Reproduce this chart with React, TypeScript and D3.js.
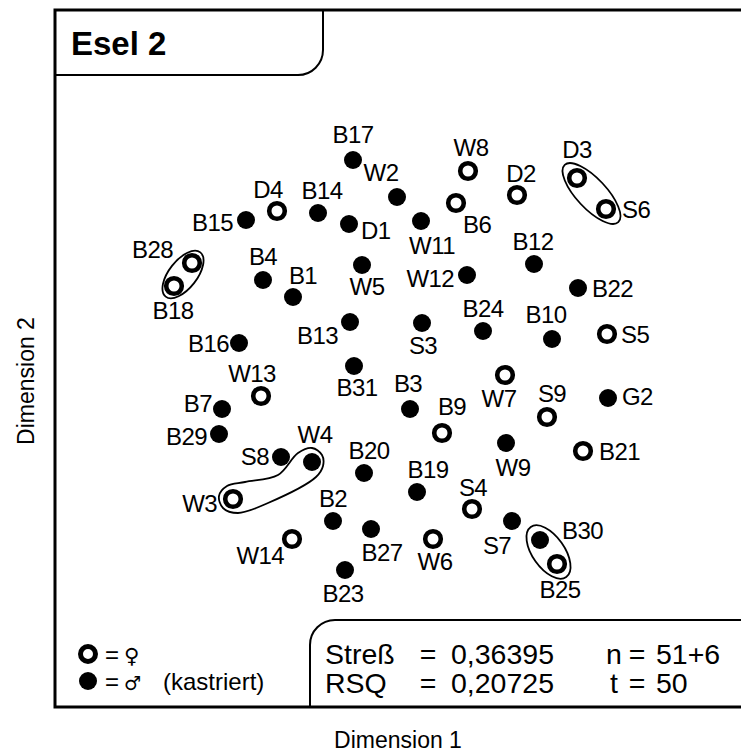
import React from "react";
import * as d3 from "d3";

// ---- Data (MDS coordinates, Dimension 1 / Dimension 2) ----
const femaleNames = ["W8","D2","D3","S6","D4","B6","B28","B18","S5","W7","W13","S9","B9","B21","W3","S4","W14","W6","B25"];
const femaleDim1 = [0.56,1.05,1.65,1.94,-1.35,0.44,-2.20,-2.38,1.95,0.93,-1.51,1.35,0.30,1.71,-1.79,0.60,-1.20,0.21,1.45];
const femaleDim2 = [2.09,1.85,2.02,1.71,1.69,1.77,1.17,0.94,0.46,0.05,-0.16,-0.37,-0.53,-0.71,-1.19,-1.29,-1.59,-1.59,-1.84];

const maleNames = ["B17","W2","B14","B15","D1","W11","B12","W12","B4","W5","B1","B22","B24","B10","B13","S3","B16","B31","B3","G2","B7","B29","W9","S8","W4","B20","B19","B2","S7","B27","B30","B23"];
const maleDim1 = [-0.59,-0.15,-0.94,-1.66,-0.63,0.09,1.22,0.55,-1.49,-0.50,-1.19,1.66,0.71,1.40,-0.62,0.10,-1.73,-0.58,-0.02,1.96,-1.90,-1.93,0.94,-1.31,-1.00,-0.48,0.05,-0.79,1.00,-0.41,1.28,-0.67];
const maleDim2 = [2.20,1.83,1.67,1.60,1.56,1.59,1.16,1.05,1.00,1.15,0.83,0.92,0.49,0.41,0.58,0.57,0.37,0.14,-0.29,-0.18,-0.29,-0.54,-0.63,-0.77,-0.82,-0.93,-1.12,-1.41,-1.41,-1.49,-1.60,-1.90];

const ellipsePairs = [["B28","B18"],["D3","S6"],["B30","B25"]];
const lassoPair = ["W3","W4"];

const titleText = "Esel 2";
const xTitle = "Dimension 1";
const yTitle = "Dimension 2";
const statLabels = ["Streß", "RSQ"];
const statValues = ["0,36395", "0,20725"];
const statLabels2 = ["n", "t"];
const statValues2 = ["51+6", "50"];

// ---- Layout (label placement: dx, dy, anchor) ----
const labelPlacement: Record<string, [number, number, string]> = {
  W8:[3,-15,"middle"], D2:[4,-13,"middle"], D3:[0,-20,"middle"], S6:[16,9,"start"],
  D4:[-9,-13,"middle"], B6:[7,30,"start"], B28:[-19,-5,"end"], B18:[-1,33,"middle"],
  S5:[14,9,"start"], W7:[-6,32,"middle"], W13:[-9,-14,"middle"], S9:[5,-15,"middle"],
  B9:[10,-18,"middle"], B21:[16,9,"start"], W3:[-16,13,"end"], S4:[1,-13,"middle"],
  W14:[-8,25,"end"], W6:[2,31,"middle"], B25:[3,34,"middle"],
  B17:[0,-17,"middle"], W2:[-16,-16,"middle"], B14:[4,-14,"middle"], B15:[-13,11,"end"],
  D1:[12,15,"start"], W11:[11,33,"middle"], B12:[-1,-14,"middle"], W12:[-13,12,"end"],
  B4:[0,-15,"middle"], W5:[5,30,"middle"], B1:[10,-13,"middle"], B22:[14,9,"start"],
  B24:[0,-14,"middle"], B10:[-6,-16,"middle"], B13:[-12,22,"end"], S3:[1,31,"middle"],
  B16:[-10,9,"end"], B31:[3,30,"middle"], B3:[-2,-17,"middle"], G2:[14,7,"start"],
  B7:[-10,3,"end"], B29:[-12,11,"end"], W9:[7,33,"middle"], S8:[-12,8,"end"],
  W4:[3,-19,"middle"], B20:[5,-14,"middle"], B19:[11,-14,"middle"], B2:[0,-14,"middle"],
  S7:[-15,33,"middle"], B27:[11,32,"middle"], B30:[22,-1,"start"], B23:[-2,32,"middle"],
};

const W = 741, H = 756;
const FONT = "'Liberation Sans', Arial, Helvetica, sans-serif";

export default function App() {
  const x = d3.scaleLinear().domain([-2, 2]).range([212, 612]);
  const y = d3.scaleLinear().domain([-2, 2]).range([580, 180]);

  const females = femaleNames.map((n, i) => ({ name: n, f: true, px: x(femaleDim1[i]), py: y(femaleDim2[i]) }));
  const males = maleNames.map((n, i) => ({ name: n, f: false, px: x(maleDim1[i]), py: y(maleDim2[i]) }));
  const all = [...females, ...males];
  const byName: Record<string, { px: number; py: number }> = {};
  all.forEach((p) => (byName[p.name] = p));

  const ellipseExtra: Record<string, [number, number]> = { B28: [13.5, 14], D3: [18, 15], B30: [16, 16] };

  // lasso around W3 & W4
  const a = byName[lassoPair[0]], b = byName[lassoPair[1]];
  const lassoPts: [number, number][] = [
    [a.px - 14, a.py - 3],
    [a.px - 6, a.py - 13],
    [a.px + 12, a.py - 17],
    [a.px + 45, a.py - 24],
    [b.px - 14, b.py - 9],
    [b.px, b.py - 14],
    [b.px + 10, b.py - 7],
    [b.px + 11, b.py + 4],
    [b.px + 4, b.py + 15],
    [a.px + 35, a.py + 4],
    [a.px + 5, a.py + 14],
    [a.px - 10, a.py + 9],
  ];
  const lassoPath = d3.line().curve(d3.curveCatmullRomClosed.alpha(0.5))(lassoPts) || "";

  return (
    <svg width={W} height={H} style={{ position: "absolute", left: 0, top: 0, background: "#fff" }} fontFamily={FONT}>
      <rect x={0} y={0} width={W} height={H} fill="#fff" />
      {/* frame */}
      <path d={`M${W + 5},10 H55 V707 H${W + 5}`} fill="none" stroke="#000" strokeWidth={3} />
      {/* title tab */}
      <path d="M55,75 H298 A25,25 0 0 0 323,50 V10" fill="none" stroke="#000" strokeWidth={2} />
      <text x={71} y={55} fontSize={33} fontWeight="bold">{titleText}</text>

      {/* stats box */}
      <path d={`M310,707 V645 A25,25 0 0 1 335,620 H${W + 5}`} fill="none" stroke="#000" strokeWidth={2} />
      {statLabels.map((lab, i) => {
        const by = 664 + i * 29;
        return (
          <g key={i} fontSize={28.5}>
            <text x={325} y={by}>{lab}</text>
            <text x={428} y={by} textAnchor="middle">=</text>
            <text x={451} y={by}>{statValues[i]}</text>
            <text x={614} y={by} textAnchor="middle">{statLabels2[i]}</text>
            <text x={637} y={by} textAnchor="middle">=</text>
            <text x={656} y={by}>{statValues2[i]}</text>
          </g>
        );
      })}

      {/* legend */}
      <circle cx={88} cy={654} r={7.5} fill="#fff" stroke="#000" strokeWidth={5} />
      <circle cx={88} cy={681} r={9} fill="#000" />
      <text x={105} y={663} fontSize={24}>=</text>
      <text x={124} y={663} fontSize={21} fontFamily="'DejaVu Sans', sans-serif">♀</text>
      <text x={105} y={690} fontSize={24}>=</text>
      <text x={124} y={690} fontSize={19} fontFamily="'DejaVu Sans', sans-serif">♂</text>
      <text x={163} y={690} fontSize={24}>(kastriert)</text>

      {/* axis titles */}
      <text x={398} y={748} fontSize={23} textAnchor="middle">{xTitle}</text>
      <text transform="translate(34,381) rotate(-90)" fontSize={23} textAnchor="middle">{yTitle}</text>

      {/* group ellipses */}
      {ellipsePairs.map(([n1, n2]) => {
        const p1 = byName[n1], p2 = byName[n2];
        const cx = (p1.px + p2.px) / 2, cy = (p1.py + p2.py) / 2;
        const d = Math.hypot(p2.px - p1.px, p2.py - p1.py);
        const ang = (Math.atan2(p2.py - p1.py, p2.px - p1.px) * 180) / Math.PI;
        const [ex, ry] = ellipseExtra[n1];
        return (
          <ellipse key={n1} cx={cx} cy={cy} rx={d / 2 + ex} ry={ry}
            transform={`rotate(${ang},${cx},${cy})`} fill="none" stroke="#000" strokeWidth={1.8} />
        );
      })}
      <path d={lassoPath} fill="none" stroke="#000" strokeWidth={1.8} />

      {/* points */}
      {all.map((p) =>
        p.f ? (
          <circle key={p.name} cx={p.px} cy={p.py} r={7.8} fill="#fff" stroke="#000" strokeWidth={4.6} />
        ) : (
          <circle key={p.name} cx={p.px} cy={p.py} r={9} fill="#000" />
        )
      )}
      {/* labels */}
      {all.map((p) => {
        const [dx, dy, anchor] = labelPlacement[p.name] || [0, -14, "middle"];
        return (
          <text key={"l" + p.name} x={p.px + dx} y={p.py + dy} fontSize={24} textAnchor={anchor}
            letterSpacing={-0.6}>{p.name}</text>
        );
      })}
    </svg>
  );
}
